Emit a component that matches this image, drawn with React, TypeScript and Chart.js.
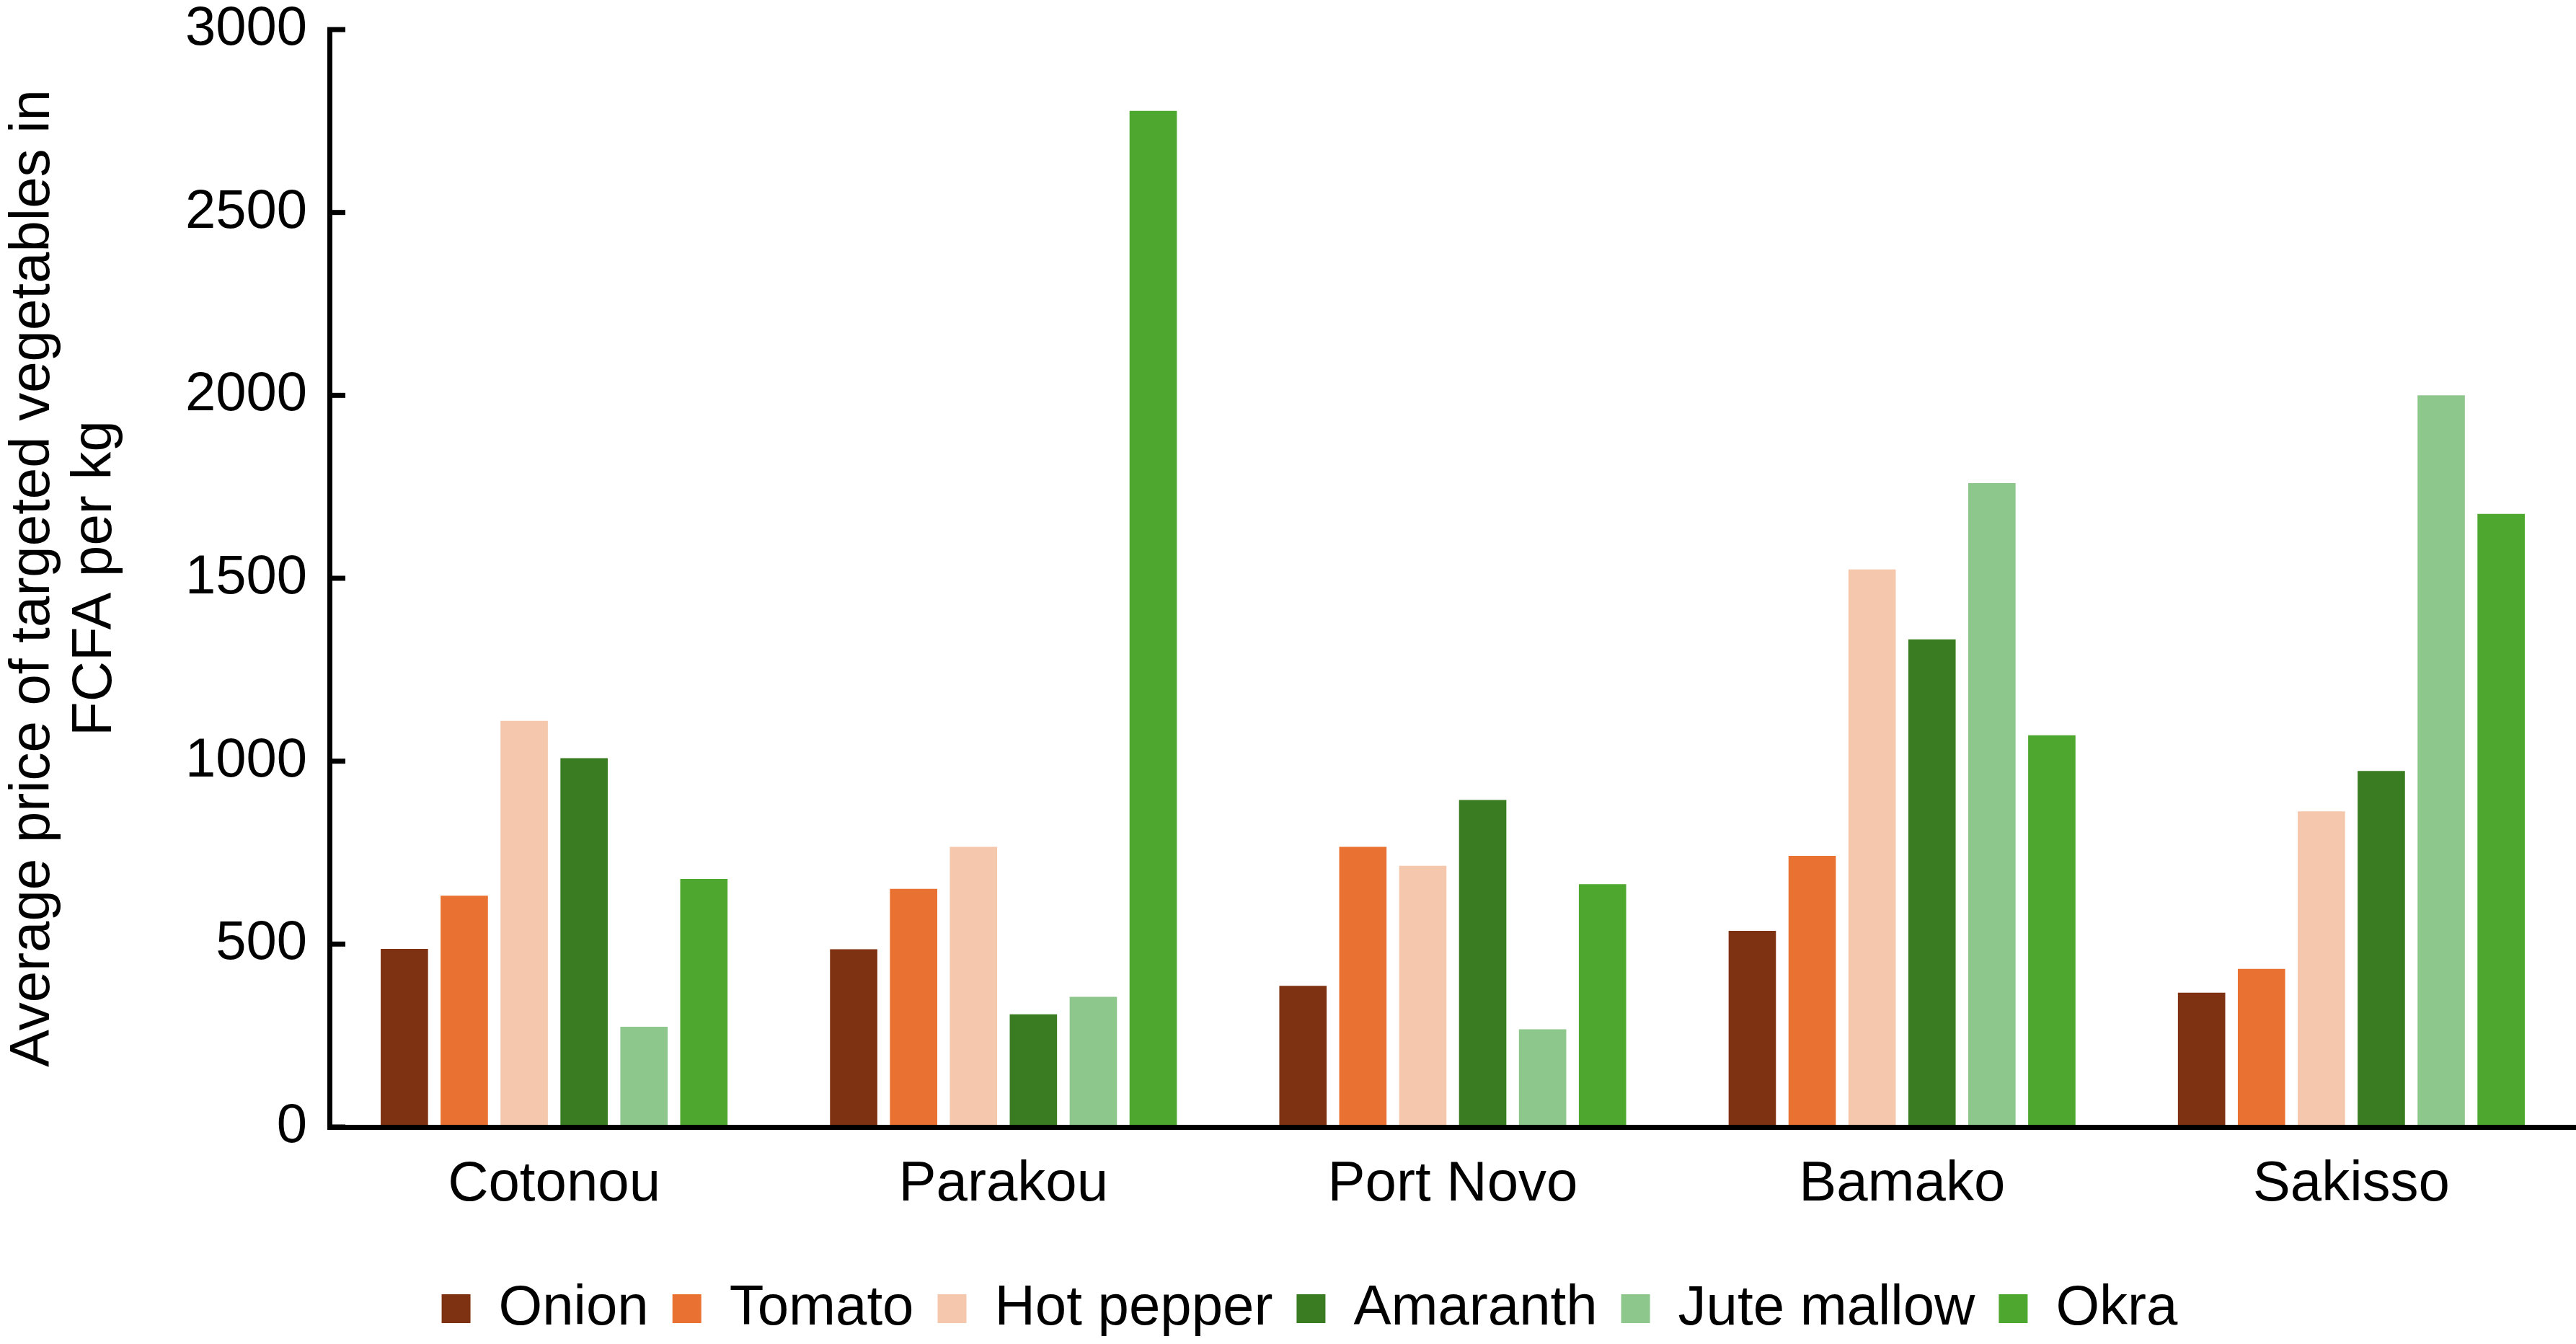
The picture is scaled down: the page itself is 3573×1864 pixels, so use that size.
import React, { useEffect, useRef } from "react";
import { Chart, registerables } from "chart.js";

Chart.register(...registerables);

const categories = ["Cotonou", "Parakou", "Port Novo", "Bamako", "Sakisso"];
const seriesNames = ["Onion", "Tomato", "Hot pepper", "Amaranth", "Jute mallow", "Okra"];
const onion = [487, 486, 386, 536, 367];
const tomato = [632, 651, 766, 741, 432];
const hotPepper = [1110, 766, 714, 1524, 863];
const amaranth = [1008, 308, 894, 1333, 973];
const juteMallow = [274, 356, 267, 1760, 2000];
const okra = [678, 2778, 664, 1071, 1676];
const seriesColors = ["#7F3211", "#E97132", "#F5C7AD", "#3A7C22", "#8EC78C", "#4EA72E"];
const yTickValues = [0, 500, 1000, 1500, 2000, 2500, 3000];
const yTitle = ["Average price of targeted vegetables in", "FCFA per kg"];

const FONT = "'Liberation Sans', Arial, sans-serif";

export default function App() {
  const ref = useRef<HTMLCanvasElement | null>(null);

  useEffect(() => {
    const H = 1864;
    const PLOT_LEFT = 457;
    const PLOT_TOP = 41;
    const PLOT_BOTTOM = 1563;

    const allSeries = [onion, tomato, hotPepper, amaranth, juteMallow, okra];

    const innerTicks = {
      id: "innerTicks",
      afterDatasetsDraw(chart: any) {
        const y = chart.scales.y;
        const ctx = chart.ctx;
        const x0 = chart.chartArea.left;
        ctx.save();
        ctx.strokeStyle = "#000";
        ctx.lineWidth = 7;
        yTickValues.forEach((v) => {
          const py = y.getPixelForValue(v);
          ctx.beginPath();
          ctx.moveTo(x0 - 3, py);
          ctx.lineTo(x0 + 22, py);
          ctx.stroke();
        });
        ctx.restore();
      },
    };

    const legendShift = {
      id: "legendShift",
      afterLayout(chart: any) {
        const lg = chart.legend;
        if (lg) {
          lg.left += 30;
          lg.right += 30;
        }
      },
    };

    const chart = new Chart(ref.current as HTMLCanvasElement, {
      type: "bar",
      data: {
        labels: categories,
        datasets: seriesNames.map((name, i) => ({
          label: name,
          data: allSeries[i],
          backgroundColor: seriesColors[i],
          borderWidth: 0,
          categoryPercentage: 0.8,
          barPercentage: 0.79,
        })),
      },
      options: {
        responsive: false,
        animation: false,
        devicePixelRatio: 1,
        layout: { padding: { top: PLOT_TOP, left: 0, right: 0, bottom: 0 } },
        plugins: {
          legend: {
            position: "bottom",
            labels: {
              boxWidth: 40,
              boxHeight: 40,
              padding: 33,
              color: "#000",
              font: { family: FONT, size: 78 },
            },
          },
          tooltip: { enabled: false },
        },
        scales: {
          x: {
            grid: { display: false, drawTicks: false },
            border: { display: true, color: "#000", width: 7, z: 1 },
            ticks: {
              padding: 34,
              color: "#000",
              font: { family: FONT, size: 78 },
            },
            afterFit: (s: any) => {
              const lh = s.chart.legend ? s.chart.legend.height : 0;
              s.height = H - PLOT_BOTTOM - lh;
              s.paddingLeft = 0;
              s.paddingRight = 0;
            },
          },
          y: {
            min: 0,
            max: 3000,
            grid: { display: false, drawTicks: false },
            border: { display: true, color: "#000", width: 7, z: 1 },
            ticks: {
              stepSize: 500,
              padding: 31,
              color: "#000",
              font: { family: FONT, size: 76, lineHeight: 1 },
              callback: (v: any) => String(v),
            },
            title: {
              display: true,
              text: yTitle,
              color: "#000",
              font: { family: FONT, size: 78, lineHeight: 1.1 },
              padding: { top: 4, bottom: 0 },
            },
            afterFit: (s: any) => {
              s.width = PLOT_LEFT;
              s.paddingTop = 0;
              s.paddingBottom = 0;
            },
          },
        },
      } as any,
      plugins: [innerTicks, legendShift],
    });

    return () => chart.destroy();
  }, []);

  return (
    <div style={{ position: "fixed", left: 0, top: 0, width: 3573, height: 1864, background: "#fff" }}>
      <canvas ref={ref} width={3573} height={1864} style={{ display: "block", width: 3573, height: 1864 }} />
    </div>
  );
}
